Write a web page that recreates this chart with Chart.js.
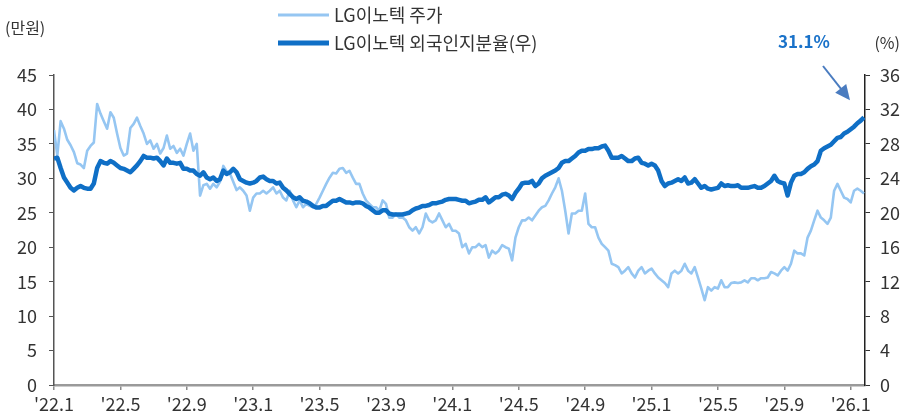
<!DOCTYPE html>
<html>
<head>
<meta charset="utf-8">
<script src="https://cdn.jsdelivr.net/npm/chart.js"></script>
<style>
	html, body { margin: 0; padding: 0; background: #fff; }
	#wrap { width: 901px; height: 418px; }
</style>
</head>
<body>
<div id="wrap"><canvas id="lgChart" width="901" height="418"></canvas></div>
<script>
// x ticks every 4 months; one data step is about 0.2 month (~6 days)
const xTickLabels = ["'22.1", "'22.5", "'22.9", "'23.1", "'23.5", "'23.9", "'24.1", "'24.5", "'24.9", "'25.1", "'25.5", "'25.9", "'26.1"];
const stepsPerTick = 20;

// LG이노텍 주가 (만원)
const price = [
	37.0, 33.3, 38.3, 37.2, 35.6, 34.8, 33.8, 32.2, 32.0, 31.5,
	34.0, 34.7, 35.2, 40.8, 39.4, 38.3, 37.2, 39.6, 38.8, 36.5,
	34.4, 33.3, 33.6, 37.3, 37.9, 38.8, 37.6, 36.5, 35.0, 35.5,
	34.3, 35.0, 33.6, 34.4, 36.2, 34.3, 34.7, 33.7, 34.3, 33.3,
	35.0, 36.5, 34.0, 35.0, 27.5, 29.0, 29.2, 28.5, 29.2, 28.7,
	29.5, 31.8, 31.0, 30.7, 29.5, 28.3, 28.7, 28.2, 27.5, 25.3,
	27.2, 27.8, 27.8, 28.2, 27.8, 28.2, 28.7, 27.8, 28.2, 27.2,
	26.8, 28.2, 26.8, 25.8, 26.8, 25.8, 26.3, 26.0, 25.8, 26.3,
	27.2, 28.2, 29.2, 30.1, 30.8, 30.7, 31.4, 31.5, 30.8, 31.1,
	30.1, 29.2, 29.2, 27.8, 26.8, 26.3, 25.8, 25.8, 25.3, 26.8,
	26.3, 24.3, 24.3, 24.9, 24.3, 24.3, 23.9, 22.9, 22.4, 22.9,
	22.0, 22.9, 24.9, 23.9, 23.6, 23.9, 24.9, 23.9, 22.9, 23.4,
	22.4, 22.4, 22.0, 20.0, 20.5, 19.1, 20.0, 20.0, 20.5, 20.0,
	20.3, 18.5, 19.5, 19.1, 19.5, 20.3, 20.0, 19.8, 18.1, 21.4,
	22.9, 23.9, 23.9, 24.3, 23.9, 24.6, 25.3, 25.8, 26.0, 26.8,
	27.8, 28.7, 30.0, 28.2, 25.3, 22.0, 24.9, 24.9, 25.3, 25.3,
	27.8, 23.4, 22.9, 22.9, 21.4, 20.5, 20.0, 19.5, 17.6, 17.4,
	17.1, 16.2, 16.6, 17.1, 16.2, 15.6, 16.6, 17.1, 16.2, 16.6,
	16.9, 16.2, 15.6, 15.2, 14.8, 14.2, 16.2, 16.6, 16.2, 16.6,
	17.6, 16.6, 16.2, 17.1, 15.6, 14.0, 12.3, 14.2, 13.7, 14.2,
	14.0, 15.2, 14.2, 14.2, 14.8, 14.9, 14.8, 14.9, 15.2, 14.9,
	15.5, 15.5, 15.2, 15.5, 15.5, 15.6, 16.4, 16.2, 15.9, 16.6,
	17.1, 16.6, 17.6, 19.5, 19.1, 19.1, 18.8, 21.4, 22.4, 23.9,
	25.3, 24.3, 23.9, 23.4, 24.3, 28.2, 29.2, 28.2, 27.2, 27.0,
	26.5, 28.2, 28.5, 28.2, 27.8
];

// LG이노텍 외국인지분율 (%, right axis)
const foreignPct = [
	26.3, 26.4, 25.2, 24.1, 23.5, 22.9, 22.6, 22.9, 23.1, 22.9,
	22.8, 22.8, 23.4, 25.2, 26.0, 25.8, 25.7, 26.0, 25.8, 25.5,
	25.2, 25.1, 24.9, 24.7, 25.1, 25.5, 26.0, 26.6, 26.4, 26.4,
	26.3, 26.4, 26.0, 25.5, 26.3, 25.8, 25.8, 25.7, 25.8, 25.1,
	25.1, 24.9, 24.9, 24.5, 24.3, 24.7, 24.1, 23.9, 24.1, 23.7,
	23.9, 24.9, 24.5, 24.7, 25.1, 24.7, 23.9, 23.7, 23.5, 23.4,
	23.5, 23.7, 24.1, 24.2, 23.9, 23.7, 23.7, 23.4, 23.5, 22.9,
	22.6, 22.2, 21.8, 21.6, 21.8, 21.4, 21.3, 21.1, 20.8, 20.6,
	20.6, 20.8, 20.8, 21.1, 21.4, 21.4, 21.6, 21.4, 21.2, 21.2,
	21.1, 21.2, 21.2, 21.1, 20.8, 20.6, 20.3, 20.0, 20.0, 20.3,
	20.3, 19.9, 19.8, 19.8, 19.8, 19.8, 19.9, 20.0, 20.3, 20.5,
	20.6, 20.8, 20.8, 20.9, 21.1, 21.1, 21.2, 21.3, 21.5, 21.6,
	21.6, 21.6, 21.5, 21.4, 21.4, 21.1, 21.2, 21.3, 21.5, 21.5,
	21.8, 21.2, 21.5, 21.8, 21.8, 22.1, 22.2, 22.0, 21.6, 22.3,
	22.8, 23.4, 23.5, 23.5, 23.7, 23.1, 23.4, 24.0, 24.3, 24.5,
	24.7, 24.9, 25.2, 25.8, 26.0, 26.0, 26.3, 26.6, 27.0, 27.2,
	27.2, 27.4, 27.4, 27.5, 27.5, 27.7, 27.8, 27.2, 26.4, 26.4,
	26.4, 26.6, 26.3, 26.0, 26.0, 26.3, 26.4, 25.8, 25.7, 25.5,
	25.7, 25.5, 24.9, 23.7, 23.1, 23.4, 23.5, 23.7, 23.9, 23.7,
	24.1, 23.4, 23.5, 23.9, 23.4, 22.9, 23.1, 22.8, 22.7, 22.8,
	22.9, 23.4, 23.1, 23.2, 23.1, 23.1, 23.2, 22.9, 22.9, 22.9,
	23.0, 23.1, 22.9, 22.9, 23.1, 23.4, 23.7, 24.3, 23.7, 23.5,
	23.4, 22.0, 23.5, 24.3, 24.5, 24.5, 24.7, 25.1, 25.4, 25.6,
	26.0, 27.2, 27.5, 27.7, 27.9, 28.3, 28.7, 28.8, 29.2, 29.4,
	29.7, 30.0, 30.4, 30.7, 31.1
];

const lastLabel = '31.1%';

const lightBlue = '#95c6f2';
const darkBlue = '#0f6fc6';
const textColor = '#333333';
const fontFamily = '"Noto Sans CJK KR", "Noto Sans", sans-serif';

function toPoints(values) {
	return values.map((v, i) => ({ x: i, y: v }));
}

// legend, unit labels and the end-value callout
const overlayPlugin = {
	id: 'overlay',
	afterDraw(chart) {
		const ctx = chart.ctx;
		ctx.save();
		ctx.font = '18px ' + fontFamily;
		ctx.fillStyle = textColor;
		ctx.textBaseline = 'middle';

		// legend
		ctx.lineCap = 'butt';
		ctx.strokeStyle = lightBlue;
		ctx.lineWidth = 3;
		ctx.beginPath();
		ctx.moveTo(278, 15);
		ctx.lineTo(329, 15);
		ctx.stroke();
		ctx.strokeStyle = darkBlue;
		ctx.lineWidth = 5;
		ctx.beginPath();
		ctx.moveTo(278, 43);
		ctx.lineTo(329, 43);
		ctx.stroke();
		ctx.textAlign = 'left';
		ctx.fillText('LG이노텍 주가', 334, 15);
		ctx.fillText('LG이노텍 외국인지분율(우)', 334, 43);

		// unit labels
		ctx.font = '16px ' + fontFamily;
		ctx.fillText('(만원)', 5, 28);
		ctx.textAlign = 'right';
		ctx.fillText('(%)', 900, 43);

		// callout
		ctx.textAlign = 'center';
		ctx.fillStyle = '#1a72c9';
		ctx.font = 'bold 17px ' + fontFamily;
		ctx.fillText(lastLabel, 804, 42);

		const meta = chart.getDatasetMeta(0);
		const endPt = meta.data[meta.data.length - 1];
		const tipX = endPt.x - 14;
		const tipY = endPt.y - 17;
		const startX = 823;
		const startY = 66;
		const ang = Math.atan2(tipY - startY, tipX - startX);
		ctx.strokeStyle = '#4a7cc0';
		ctx.fillStyle = '#4a7cc0';
		ctx.lineWidth = 2;
		ctx.beginPath();
		ctx.moveTo(startX, startY);
		ctx.lineTo(tipX - 10 * Math.cos(ang), tipY - 10 * Math.sin(ang));
		ctx.stroke();
		ctx.beginPath();
		ctx.moveTo(tipX, tipY);
		ctx.lineTo(tipX - 15 * Math.cos(ang) + 7 * Math.sin(ang), tipY - 15 * Math.sin(ang) - 7 * Math.cos(ang));
		ctx.lineTo(tipX - 15 * Math.cos(ang) - 7 * Math.sin(ang), tipY - 15 * Math.sin(ang) + 7 * Math.cos(ang));
		ctx.closePath();
		ctx.fill();
		ctx.restore();
	}
};

const tickFont = { family: fontFamily, size: 18 };

new Chart(document.getElementById('lgChart').getContext('2d'), {
	type: 'line',
	data: {
		datasets: [
			{
				label: 'LG이노텍 외국인지분율(우)',
				data: toPoints(foreignPct),
				yAxisID: 'y1',
				borderColor: darkBlue,
				borderWidth: 4.5,
				pointRadius: 0,
				tension: 0,
				borderJoinStyle: 'round',
				order: 1,
			},
			{
				label: 'LG이노텍 주가',
				data: toPoints(price),
				yAxisID: 'y',
				borderColor: lightBlue,
				borderWidth: 2.6,
				pointRadius: 0,
				tension: 0,
				borderJoinStyle: 'round',
				order: 2,
			},
		],
	},
	options: {
		responsive: false,
		animation: false,
		layout: { padding: { top: 75, left: 0, right: 0, bottom: 0 } },
		plugins: {
			legend: { display: false },
			tooltip: { enabled: false },
		},
		scales: {
			x: {
				type: 'linear',
				min: 0,
				max: 244.3,
				afterBuildTicks: (s) => {
					s.ticks = xTickLabels.map((_, i) => ({ value: i * stepsPerTick }));
				},
				afterFit: (s) => { s.height = 33; },
				ticks: {
					callback: (v) => xTickLabels[Math.round(v / stepsPerTick)],
					font: tickFont,
					color: textColor,
					maxRotation: 0,
					autoSkip: false,
					padding: 3,
				},
				grid: { drawOnChartArea: false, drawTicks: true, tickLength: 5, color: '#8a8a8a', lineWidth: 1.5 },
				border: { color: '#9a9a9a', width: 2.5 },
			},
			y: {
				position: 'left',
				min: 0,
				max: 45,
				afterFit: (s) => { s.width = 54; },
				ticks: { stepSize: 5, font: tickFont, color: textColor, padding: 12 },
				grid: { drawOnChartArea: false, drawTicks: true, tickLength: 5, color: '#555' },
				border: { color: '#555', width: 1.5 },
			},
			y1: {
				position: 'right',
				min: 0,
				max: 36,
				afterFit: (s) => { s.width = 36; },
				ticks: { stepSize: 4, font: tickFont, color: textColor, padding: 10 },
				grid: { drawOnChartArea: false, drawTicks: true, tickLength: 5, color: '#333' },
				border: { color: '#222', width: 1.5 },
			},
		},
	},
	plugins: [overlayPlugin],
});
</script>
</body>
</html>
